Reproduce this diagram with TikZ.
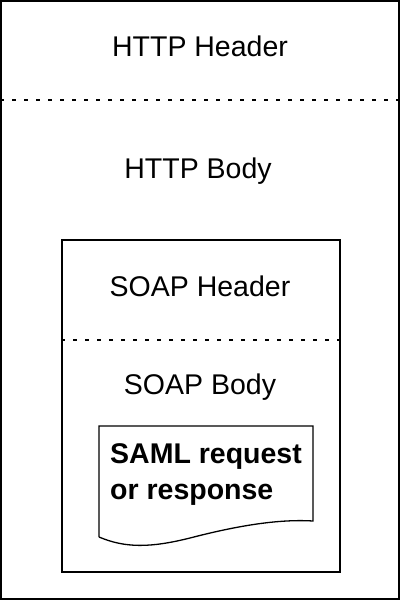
\documentclass[tikz,border=0pt]{standalone}
\usepackage{fontspec}
\setmainfont{Liberation Sans}
\usetikzlibrary{positioning}

\begin{document}
\begin{tikzpicture}[
    x=1pt, y=-1pt,
    frame/.style={draw, line width=1.3pt, inner sep=0pt},
    sep/.style={draw, dash pattern=on 4pt off 8pt, line width=1.3pt},
    lbl/.style={font=\fontsize{28.5}{34}\selectfont, anchor=base},
    doctext/.style={font=\fontsize{28.5}{36}\selectfont\bfseries, align=left, anchor=base west, inner sep=0pt},
]
    \useasboundingbox (0,0) rectangle (400,600);

    % Boxes
    \node[frame, minimum width=398pt, minimum height=598pt] (http) at (200,300) {};
    \node[frame, minimum width=278pt, minimum height=332pt] (soap) at (201,406) {};

    % Separators
    \draw[sep] (http.west |- 0,100) -- (http.east |- 0,100);
    \draw[sep] (soap.west |- 0,340) -- (soap.east |- 0,340);

    % Labels
    \node[lbl] (httphdr) at (200,56) {HTTP Header};
    \node[lbl] (httpbody) at (198,178) {HTTP Body};
    \node[lbl] (soaphdr) at (200,296) {SOAP Header};
    \node[lbl] (soapbody) at (200,394) {SOAP Body};

    % SAML document
    \draw[line width=1.3pt] (99,537) -- (99,426) -- (313,426) -- (313,521)
        .. controls (280,519) and (240,525) .. (190,538)
        .. controls (150,548) and (125,548) .. (99,537);
    \node[doctext] (saml) at (110,499) {SAML request\\or response};
\end{tikzpicture}
\end{document}
